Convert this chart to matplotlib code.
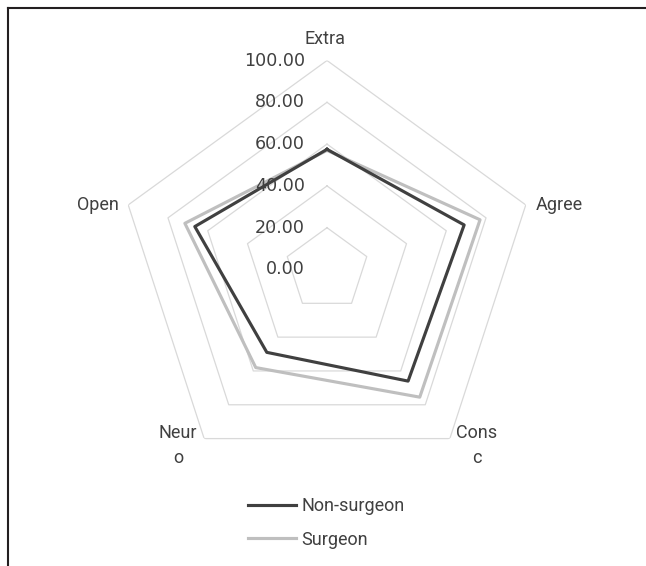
import numpy as np
import matplotlib
matplotlib.use("Agg")
import matplotlib.pyplot as plt
from matplotlib.lines import Line2D

categories = ["Extra", "Agree", "Cons\nc", "Neur\no", "Open"]
non_surgeon = [57.5, 69, 66, 49, 66.5]
surgeon = [57, 77, 75.5, 58, 71.5]
ring_values = [20, 40, 60, 80, 100]
tick_values = [0, 20, 40, 60, 80, 100]
tick_labels = ["0.00", "20.00", "40.00", "60.00", "80.00", "100.00"]

W, H = 646, 566
fig = plt.figure(figsize=(W / 100, H / 100), dpi=100)
fig.patch.set_facecolor("white")

cx, cy, R = 327, 269.5, 209
ax = fig.add_axes([(cx - R) / W, (H - cy - R) / H, 2 * R / W, 2 * R / H], projection="polar")
ax.set_theta_zero_location("N")
ax.set_theta_direction(-1)
ax.set_ylim(0, 100)
ax.grid(False)
ax.spines["polar"].set_visible(False)
ax.set_xticks([])
ax.set_yticks([])
ax.patch.set_alpha(0)

n = len(categories)
angles = np.linspace(0, 2 * np.pi, n, endpoint=False)
ang_closed = np.append(angles, angles[0])

text_color = "#404040"
for rv in ring_values:
    ax.plot(ang_closed, [rv] * (n + 1), color="#d9d9d9", lw=0.9, zorder=1)

s_vals = np.append(surgeon, surgeon[0])
ns_vals = np.append(non_surgeon, non_surgeon[0])
l_s, = ax.plot(ang_closed, s_vals, color="#bfbfbf", lw=2.25, zorder=3, label="Surgeon")
l_ns, = ax.plot(ang_closed, ns_vals, color="#404040", lw=2.25, zorder=4, label="Non-surgeon")

for tv, tl in zip(tick_values, tick_labels):
    ax.annotate(tl, xy=(0, tv), xytext=(-22, 0), textcoords="offset pixels",
                ha="right", va="center", fontsize=12.6, color=text_color,
                family="DejaVu Sans", zorder=5)

# category labels
label_offsets = [(-2, 21), (10, 0), (27, -7), (-26, -7), (-9, 0)]
label_ha = ["center", "left", "center", "center", "right"]
label_va = ["center", "center", "center", "center", "center"]
for a, c, off, ha, va in zip(angles, categories, label_offsets, label_ha, label_va):
    ax.annotate(c, xy=(a, 100), xytext=off, textcoords="offset pixels",
                ha=ha, va=va, fontsize=13, color=text_color, family="Roboto",
                linespacing=1.45, annotation_clip=False)

leg = fig.legend(handles=[l_ns, l_s], labels=["Non-surgeon", "Surgeon"],
                 loc="center", bbox_to_anchor=(326.5 / W, 1 - 523 / H),
                 frameon=False, handlelength=2.67, handletextpad=0.28,
                 labelspacing=0.85, borderpad=0, borderaxespad=0,
                 prop={"family": "Roboto", "size": 13})
for t in leg.get_texts():
    t.set_color(text_color)

# frame lines
fig.add_artist(Line2D([7.7 / W, 1], [1 - 8.3 / H, 1 - 8.3 / H], color="#231f20", lw=1.5,
                      transform=fig.transFigure))
fig.add_artist(Line2D([7.7 / W, 7.7 / W], [0, 1 - 8.3 / H], color="#231f20", lw=1.5,
                      transform=fig.transFigure))

fig.savefig("out.png", dpi=100, facecolor="white")
